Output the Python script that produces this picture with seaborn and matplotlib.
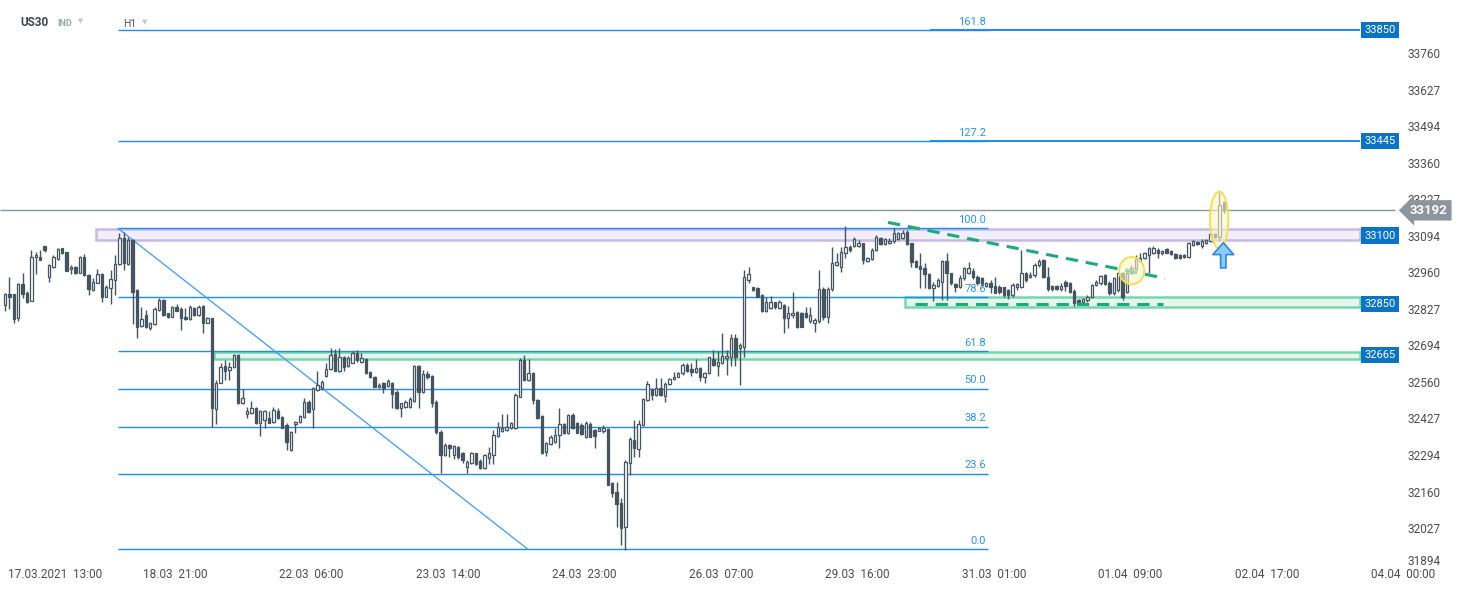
import matplotlib
matplotlib.use("Agg")
import matplotlib.pyplot as plt
import matplotlib.transforms as mtransforms
from matplotlib.patches import Rectangle, Ellipse
import numpy as np
import seaborn as sns

# US30, H1 candles (17.03.2021 - 02.04.2021)
open_ = [
    32846, 32886, 32886, 32798, 32923, 32892, 32863, 33021, 33021, 33061,
    32948, 32984, 33013, 33054, 33041, 32977, 32984, 32965, 33021, 32956,
    32902, 32928, 32960, 32877, 32908, 32936, 32996, 33090, 32996, 33084,
    32902, 32770, 32810, 32762, 32778, 32829, 32865, 32816, 32804, 32838,
    32831, 32804, 32796, 32835, 32810, 32843, 32782, 32798, 32466, 32563,
    32624, 32610, 32619, 32664, 32488, 32449,
    32451, 32470, 32415, 32427, 32433, 32421, 32461, 32439, 32409, 32318,
    32412, 32421, 32437, 32494, 32466, 32536, 32542, 32587, 32612, 32668,
    32607, 32656, 32625, 32636, 32670, 32640, 32648, 32603, 32583, 32546,
    32561, 32551, 32563, 32530, 32470, 32476, 32473, 32497, 32624, 32530,
    32595, 32587, 32494, 32384, 32299, 32336, 32299, 32330, 32305, 32257,
    32269, 32305, 32279, 32251, 32287, 32299, 32368, 32388, 32390, 32397,
    32397, 32512, 32646, 32573, 32600, 32500, 32441, 32311, 32340, 32348,
    32372, 32412, 32378, 32445, 32415, 32409, 32366, 32412, 32390, 32388,
    32388, 32395, 32198, 32165, 32123, 32035, 32271, 32354, 32320, 32408,
    32500, 32540, 32518, 32542, 32514, 32558, 32575, 32585, 32597, 32628,
    32612, 32603, 32615, 32585, 32597, 32648, 32624, 32634, 32652, 32658,
    32725, 32688, 32695,
    32938, 32911, 32907, 32883, 32826, 32834, 32859, 32834, 32847, 32798,
    32810, 32822, 32819, 32819, 32790, 32782, 32790, 32904, 32804, 32904,
    32993, 32987, 33038, 33060, 33062, 33062, 33072, 33008, 33013, 33047,
    33090, 33069, 33072, 33081, 33086, 33090, 33114,
    33072, 33008, 32989, 32980, 32960, 32907, 32916, 32932, 33008, 32962,
    32923, 32911, 32944, 32965, 32972, 32948, 32944, 32916, 32928, 32916,
    32911, 32911, 32901, 32883, 32914, 32911, 32965, 32948, 32956, 32993,
    33011, 32948, 32916, 32916, 32904, 32932, 32928, 32899, 32865, 32859,
    32865, 32877, 32920, 32926, 32956, 32926, 32889, 32901, 32962, 32895,
    32965, 32978, 33008, 33017, 33029, 33035, 33047, 33037, 33050, 33045,
    33033, 33030, 33030, 33020, 33065, 33078, 33062, 33072, 33081, 33106,
    33093, 33222,
]
high = [
    32892, 32948, 32888, 32926, 32962, 32896, 33048, 33041, 33048, 33061,
    32995, 33029, 33054, 33056, 33041, 32993, 32989, 33026, 33033, 32960,
    32944, 32977, 32962, 32920, 32975, 33029, 33108, 33114, 33096, 33086,
    32904, 32838, 32829, 32786, 32838, 32871, 32867, 32819, 32843, 32850,
    32841, 32835, 32847, 32841, 32847, 32847, 32804, 32798, 32573, 32634,
    32646, 32640, 32668, 32668, 32539, 32476,
    32497, 32473, 32463, 32463, 32461, 32473, 32470, 32442, 32415, 32388,
    32425, 32445, 32506, 32500, 32546, 32607, 32573, 32634, 32688, 32685,
    32688, 32660, 32660, 32680, 32683, 32670, 32652, 32607, 32588, 32563,
    32567, 32575, 32567, 32536, 32490, 32500, 32512, 32628, 32628, 32610,
    32607, 32591, 32500, 32390, 32342, 32340, 32336, 32332, 32311, 32281,
    32311, 32308, 32283, 32303, 32330, 32390, 32421, 32450, 32450, 32421,
    32524, 32652, 32664, 32648, 32603, 32505, 32445, 32348, 32372, 32397,
    32470, 32415, 32449, 32451, 32421, 32415, 32425, 32421, 32393, 32400,
    32409, 32398, 32202, 32202, 32141, 32281, 32364, 32427, 32427, 32506,
    32570, 32545, 32579, 32579, 32567, 32579, 32603, 32603, 32634, 32634,
    32634, 32648, 32619, 32603, 32658, 32682, 32680, 32743, 32682, 32740,
    32740, 32707, 32974,
    32987, 32914, 32911, 32887, 32877, 32880, 32859, 32865, 32850, 32843,
    32895, 32826, 32822, 32841, 32841, 32798, 32974, 32911, 32911, 33060,
    33035, 33060, 33135, 33066, 33096, 33084, 33074, 33021, 33053, 33102,
    33096, 33090, 33090, 33126, 33114, 33120, 33120,
    33074, 33011, 33035, 32999, 32962, 32932, 32944, 33011, 33038, 32965,
    32926, 32956, 32987, 33005, 32980, 32956, 32948, 32932, 32938, 32950,
    32920, 32914, 32904, 32926, 32928, 33047, 32968, 32968, 32999, 33013,
    33013, 32987, 32920, 32920, 32926, 32938, 32932, 32904, 32867, 32871,
    32883, 32923, 32938, 32956, 32959, 32935, 32950, 32968, 32968, 32980,
    32992, 33029, 33035, 33040, 33059, 33062, 33053, 33047, 33053, 33047,
    33035, 33033, 33033, 33075, 33084, 33081, 33086, 33087, 33110, 33110,
    33260, 33227,
]
low = [
    32826, 32831, 32782, 32790, 32871, 32855, 32863, 32960, 33009, 33041,
    32932, 32981, 33011, 33033, 32972, 32960, 32960, 32962, 32953, 32883,
    32899, 32926, 32859, 32875, 32849, 32883, 32993, 32975, 32993, 32778,
    32725, 32768, 32763, 32756, 32774, 32823, 32807, 32799, 32802, 32823,
    32756, 32792, 32792, 32808, 32807, 32743, 32782, 32403, 32413, 32561,
    32573, 32573, 32616, 32486, 32486, 32433,
    32449, 32412, 32369, 32397, 32415, 32417, 32429, 32397, 32318, 32315,
    32378, 32417, 32433, 32454, 32397, 32534, 32536, 32585, 32609, 32607,
    32603, 32604, 32620, 32634, 32640, 32636, 32595, 32579, 32546, 32542,
    32527, 32546, 32470, 32466, 32437, 32470, 32470, 32494, 32470, 32527,
    32575, 32476, 32376, 32235, 32296, 32293, 32283, 32283, 32269, 32235,
    32266, 32263, 32247, 32247, 32266, 32266, 32366, 32384, 32388, 32393,
    32393, 32510, 32570, 32570, 32486, 32429, 32303, 32296, 32336, 32344,
    32324, 32376, 32376, 32393, 32378, 32372, 32360, 32364, 32324, 32385,
    32378, 32188, 32147, 32038, 31971, 31952, 32226, 32291, 32291, 32405,
    32497, 32500, 32514, 32514, 32494, 32555, 32573, 32583, 32591, 32603,
    32588, 32600, 32570, 32561, 32595, 32624, 32588, 32631, 32591, 32624,
    32624, 32555, 32656,
    32926, 32899, 32875, 32822, 32822, 32831, 32831, 32831, 32746, 32762,
    32798, 32762, 32765, 32798, 32782, 32749, 32780, 32792, 32780, 32899,
    32989, 32968, 33017, 33041, 33060, 33060, 32996, 33005, 33011, 33044,
    33066, 33066, 33069, 33072, 33084, 33086, 33066,
    32987, 32984, 32907, 32907, 32904, 32862, 32914, 32865, 32865, 32920,
    32895, 32907, 32938, 32960, 32940, 32920, 32916, 32911, 32889, 32889,
    32887, 32877, 32867, 32875, 32901, 32907, 32932, 32944, 32950, 32987,
    32944, 32899, 32899, 32901, 32899, 32899, 32889, 32843, 32850, 32855,
    32859, 32871, 32916, 32920, 32918, 32884, 32884, 32895, 32865, 32890,
    32960, 32975, 33005, 33013, 32962, 33032, 33017, 33029, 33035, 33030,
    33015, 33015, 33017, 33017, 33062, 33065, 33053, 33070, 33078, 33090,
    33081, 33181,
]
close = [
    32886, 32877, 32795, 32923, 32886, 32859, 33023, 33029, 33011, 33048,
    32993, 33021, 33050, 33035, 32972, 32984, 32965, 33023, 32956, 32904,
    32932, 32960, 32877, 32911, 32940, 32996, 33090, 32999, 33084, 32895,
    32768, 32795, 32765, 32782, 32832, 32865, 32809, 32802, 32838, 32826,
    32798, 32795, 32838, 32810, 32841, 32782, 32798, 32470, 32563, 32619,
    32607, 32619, 32664, 32488, 32506, 32461,
    32470, 32415, 32461, 32461, 32417, 32463, 32433, 32397, 32348, 32384,
    32421, 32442, 32494, 32457, 32542, 32555, 32567, 32612, 32664, 32607,
    32656, 32620, 32652, 32670, 32645, 32652, 32597, 32583, 32549, 32555,
    32542, 32570, 32522, 32470, 32488, 32494, 32502, 32624, 32530, 32595,
    32583, 32488, 32384, 32299, 32336, 32323, 32332, 32293, 32281, 32275,
    32305, 32266, 32251, 32299, 32308, 32372, 32403, 32396, 32403, 32417,
    32518, 32646, 32573, 32600, 32500, 32433, 32305, 32342, 32366, 32372,
    32412, 32378, 32445, 32397, 32381, 32376, 32415, 32366, 32369, 32396,
    32398, 32190, 32162, 32120, 32032, 32275, 32356, 32323, 32411, 32502,
    32558, 32520, 32542, 32518, 32558, 32575, 32585, 32600, 32628, 32607,
    32603, 32615, 32585, 32600, 32656, 32628, 32640, 32660, 32660, 32725,
    32658, 32700, 32948,
    32960, 32901, 32877, 32826, 32859, 32859, 32838, 32859, 32798, 32816,
    32819, 32765, 32768, 32804, 32810, 32792, 32904, 32804, 32904, 32999,
    33005, 33041, 33060, 33047, 33086, 33074, 33011, 33017, 33047, 33096,
    33069, 33086, 33081, 33110, 33108, 33110, 33069,
    33005, 32987, 32977, 32960, 32907, 32920, 32938, 33008, 32962, 32926,
    32911, 32944, 32980, 32980, 32948, 32926, 32920, 32928, 32911, 32892,
    32895, 32883, 32883, 32920, 32923, 32962, 32938, 32956, 32993, 33008,
    32948, 32904, 32904, 32904, 32916, 32916, 32895, 32853, 32855, 32867,
    32877, 32920, 32932, 32952, 32923, 32889, 32944, 32962, 32877, 32965,
    32982, 33015, 33017, 33035, 33053, 33055, 33037, 33045, 33037, 33033,
    33017, 33017, 33020, 33072, 33081, 33069, 33081, 33084, 33106, 33093,
    33211, 33192,
]

date_labels = ["17.03.2021  13:00", "18.03  21:00", "22.03  06:00", "23.03  14:00",
               "24.03  23:00", "26.03  07:00", "29.03  16:00", "31.03  01:00",
               "01.04  09:00", "02.04  17:00", "04.04  00:00"]
date_bar = [11.4, 38.6, 69.7, 100.7, 131.7, 162.7, 193.8, 224.8, 255.8, 286.8, 317.8]
price_ticks = [33760, 33627, 33494, 33360, 33227, 33094, 32960, 32827,
               32694, 32560, 32427, 32294, 32160, 32027, 31894]

fib_levels = [0.0, 23.6, 38.2, 50.0, 61.8, 78.6, 100.0, 127.2, 161.8]
fib_low, fib_high = 31955, 33126
level_labels = [33850, 33445, 33100, 32850, 32665]
zone_low = [33084, 32838, 32648]
zone_high = [33123, 32875, 32676]
last_price = 33192

sns.set_theme(style="white")
plt.rcParams["font.family"] = ["Roboto", "DejaVu Sans"]


def px(x):
    # pixel column of the reference picture -> bar index
    return (x - 5) / 4.4


fig = plt.figure(figsize=(14.67, 5.91), dpi=100)
ax = fig.add_axes([0, 0, 1, 1])
ax.set_xlim(px(0), px(1467))
ax.set_ylim(31803, 33959.5)
ax.axis("off")

blue = "#1b8cf2"
dark = "#46545f"

# zones
zone_start = [px(96), px(905), px(214)]
zone_fc = ["#f2eefa", "#e4f6ee", "#e4f6ee"]
zone_ec = ["#c8b8e8", "#78d5ad", "#78d5ad"]
for lo, hi, x0, fc, ec in zip(zone_low, zone_high, zone_start, zone_fc, zone_ec):
    ax.add_patch(Rectangle((x0, lo), px(1360) - x0, hi - lo, fc=fc, ec=ec, lw=1.8, zorder=1.5))

# fibonacci
fib_prices = [fib_low + (fib_high - fib_low) * lv / 100 for lv in fib_levels]
ax.hlines(fib_prices, px(118), px(988), color=blue, lw=1, zorder=2)
ext_prices = [p for p, lv in zip(fib_prices, fib_levels) if lv > 100]
ax.hlines(ext_prices, px(930), px(1360), color=blue, lw=1.4, zorder=2)
for lv, p in zip(fib_levels, fib_prices):
    ax.annotate(f"{lv:.1f}", (px(986), p), xytext=(0, 2.5), textcoords="offset points",
                ha="right", va="bottom", fontsize=8, color="#2b95ee", zorder=6)
ax.plot([px(118), px(528)], [fib_high, fib_low], color="#3a9cff", lw=0.9, zorder=2)

# last price line
ax.hlines(last_price, px(0), px(1395), color="#8b959b", lw=1, zorder=2.5)

# candles
x = np.arange(len(close))
o = np.array(open_)
c = np.array(close)
h = np.maximum.reduce([np.array(high), o, c])
l = np.minimum.reduce([np.array(low), o, c])
up = c >= o
ax.vlines(x, l, h, color=dark, lw=1.0, zorder=3)
ax.bar(x, np.maximum(np.abs(c - o), 4), bottom=np.minimum(o, c), width=0.58,
       color=np.where(up, "white", dark), edgecolor=dark, linewidth=0.9, zorder=4)

# green trend lines
sns.lineplot(x=[px(888), px(1165)], y=[33148, 32944], ax=ax, color="#1aab77",
             lw=2.2, linestyle=(0, (4, 2.6)), zorder=5)
ax.plot([px(915), px(1163)], [32849, 32849], color="#1aab77", lw=2.2,
        linestyle=(0, (4, 2.6)), zorder=5)

# highlights
ax.add_patch(Ellipse((px(1131.7), 32972), 25 / 4.4, 100, fc=(0.99, 0.96, 0.78, 0.6),
                     ec="#f4dc52", lw=1.3, zorder=5))
ax.add_patch(Ellipse((px(1219.2), 33157), 18.3 / 4.4, 207, fc=(0.99, 0.96, 0.78, 0.6),
                     ec="#f4dc52", lw=1.3, zorder=5))
ax.annotate("", xy=(px(1223.3), 33074), xytext=(px(1223.3), 32982),
            arrowprops=dict(arrowstyle="simple,head_length=0.66,head_width=1.15,tail_width=0.3",
                            fc="#8ec9f7", ec="#2a8ae0", lw=1.2, mutation_scale=13,
                            shrinkA=0, shrinkB=0), zorder=6)

# price axis
for v in price_ticks:
    ax.text(px(1407), max(v, 31910), str(v), ha="left", va="center", fontsize=8.5,
            color="#4d4d4d", zorder=6)
for v in level_labels:
    ax.text(px(1380), v, str(v), ha="center", va="center", fontsize=8, color="white", zorder=8,
            bbox=dict(boxstyle="square,pad=0.28", fc="#0b74c4", ec="none"))
ax.text(px(1429), last_price, str(last_price), ha="center", va="center", fontsize=9.5,
        fontweight="bold", color="white", zorder=9,
        bbox=dict(boxstyle="larrow,pad=0.28", fc="#8b959b", ec="none"))

# time axis
tr = mtransforms.blended_transform_factory(ax.transData, ax.transAxes)
for pos, lab in zip(date_bar, date_labels):
    ax.text(pos, 1 - 574 / 591, lab, transform=tr, ha="center", va="center",
            fontsize=8.5, color="#4d4d4d")

# header
fig.text(20 / 1467, 1 - 22 / 591, "US30", fontsize=8.5, fontweight="bold", color="#3c4650", va="center")
fig.text(57 / 1467, 1 - 23 / 591, "IND", fontsize=6.5, fontweight="bold", color="#9aa5ad", va="center")
fig.text(78 / 1467, 1 - 22 / 591, "▼", fontsize=5, color="#c2c8cc", va="center")
fig.text(123 / 1467, 1 - 24 / 591, "H1", fontsize=7.5, color="#555555", va="center")
fig.text(142 / 1467, 1 - 23 / 591, "▼", fontsize=5, color="#c2c8cc", va="center")

fig.savefig("out.png", dpi=100)
